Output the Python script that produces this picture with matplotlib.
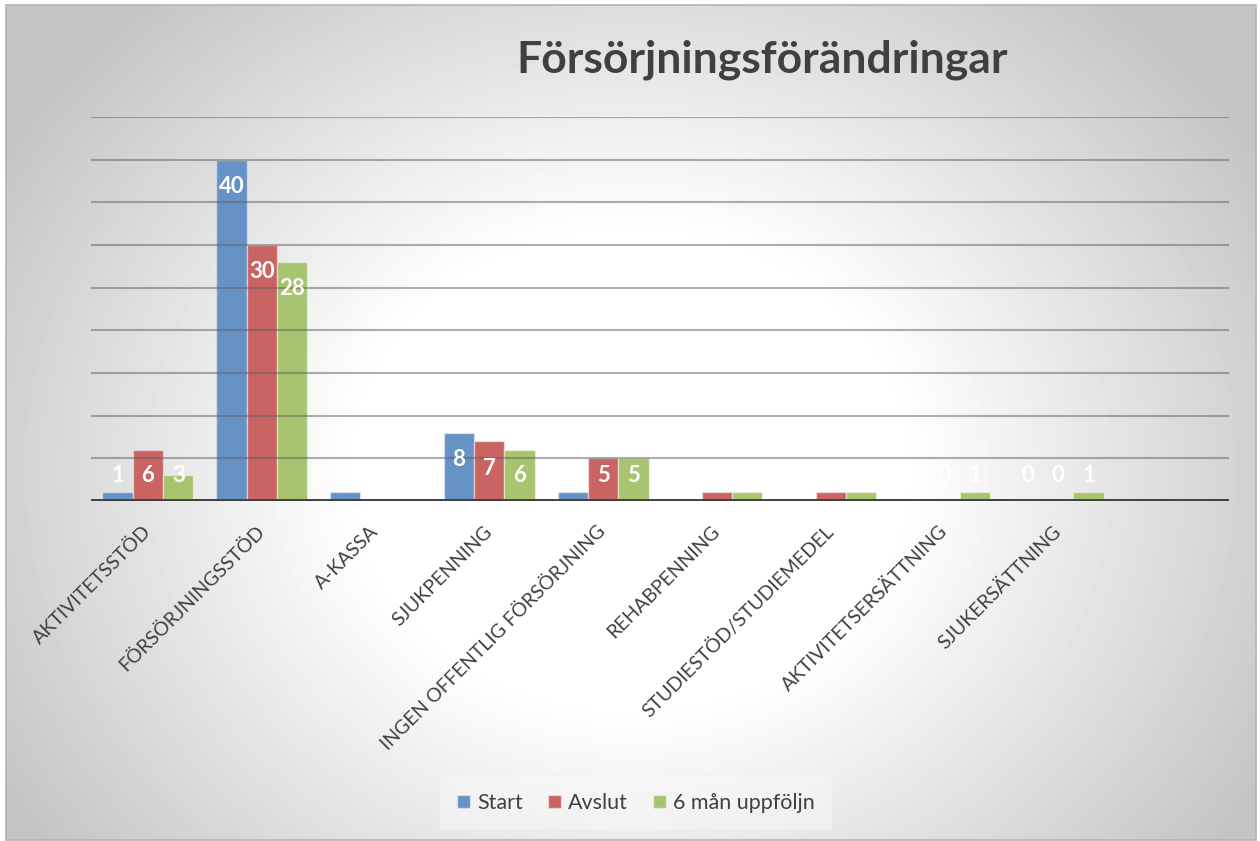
import numpy as np
import matplotlib
matplotlib.use("Agg")
import matplotlib.pyplot as plt
from matplotlib.patches import Rectangle

plt.rcParams['font.family'] = ['Lato', 'DejaVu Sans']

# data
kategorier = ["AKTIVITETSSTÖD", "FÖRSÖRJNINGSSTÖD", "A-KASSA", "SJUKPENNING",
              "INGEN OFFENTLIG FÖRSÖRJNING", "REHABPENNING", "STUDIESTÖD/STUDIEMEDEL",
              "AKTIVITETSERSÄTTNING", "SJUKERSÄTTNING", ""]
start = [1, 40, 1, 8, 1, 0, 0, 0, 0, np.nan]
avslut = [6, 30, 0, 7, 5, 1, 1, 0, 0, np.nan]
uppfoljn = [3, 28, 0, 6, 5, 1, 1, 1, 1, np.nan]
serier = ["Start", "Avslut", "6 mån uppföljn"]
farger = ["#6792C6", "#C96463", "#A9C46E"]

W, H = 1260, 841
fig = plt.figure(figsize=(W / 100, H / 100), dpi=100)
fig.patch.set_facecolor("white")

# radial gradient background (white core, grey edges)
bg = fig.add_axes([6 / W, 1 / H, 1250 / W, 835 / H], zorder=-10)
xx, yy = np.meshgrid(np.arange(6, 1256), np.arange(5, 840))
t = np.sqrt(((xx - 630) / 650.0) ** 2 + ((yy - 470) / 560.0) ** 2)
ljus = 1 - 0.23 * np.clip((t - 0.42) / 0.7, 0, 1)
bg.imshow(ljus, cmap="gray", vmin=0, vmax=1, aspect="auto", interpolation="bilinear")
bg.set_axis_off()
fig.add_artist(Rectangle((6 / W, 1 / H), 1250 / W, 835 / H, transform=fig.transFigure,
                         fill=False, edgecolor="#B4B4B4", linewidth=1.2))

ax = fig.add_axes([91 / W, 340 / H, 1138 / W, 384 / H])
ax.patch.set_alpha(0)
x = np.arange(len(kategorier))
bw = 0.267
for i, (vals, farg, namn) in enumerate(zip([start, avslut, uppfoljn], farger, serier)):
    pos = x + (i - 1) * bw
    ax.bar(pos, vals, width=bw, color=farg, edgecolor=(1, 1, 1, 0.45), linewidth=1,
           label=namn, zorder=2)
    for p, v in zip(pos, vals):
        if np.isnan(v):
            continue
        ax.text(p, max(v - 3.15, 2.95), "%d" % v, ha="center", va="center",
                color="white", fontsize=16, fontweight="bold", zorder=4)

ax.set_xlim(-0.5, len(kategorier) - 0.5)
ax.set_ylim(0, 45)
ax.set_yticks(np.arange(0, 50, 5))
ax.set_yticklabels([])
ax.grid(axis="y", color="#606060", alpha=0.5, linewidth=1.5, zorder=3)
ax.set_axisbelow(False)
ax.axhline(0, color="#404040", linewidth=2.8, zorder=5)
for s in ax.spines.values():
    s.set_visible(False)
ax.tick_params(length=0)
ax.set_xticks(x)
ax.set_xticklabels(kategorier, rotation=45, ha="right", va="center",
                   rotation_mode="anchor", fontsize=14, color="#404040")
ax.tick_params(axis="x", pad=20)

fig.text(762 / W, 1 - 60 / H, "Försörjningsförändringar", ha="center", va="center",
         fontsize=32, fontweight="bold", color="#404040")

leg = fig.legend(loc="center", bbox_to_anchor=(636 / W, 1 - 803 / H), ncol=3,
                 fontsize=15.5, frameon=True, handlelength=0.6, handleheight=0.6,
                 handletextpad=0.3, columnspacing=1.2, borderpad=0.8)
leg.get_frame().set_facecolor("white")
leg.get_frame().set_alpha(0.3)
leg.get_frame().set_edgecolor("none")
for txt in leg.get_texts():
    txt.set_color("#404040")

fig.savefig("out.png", dpi=100)
